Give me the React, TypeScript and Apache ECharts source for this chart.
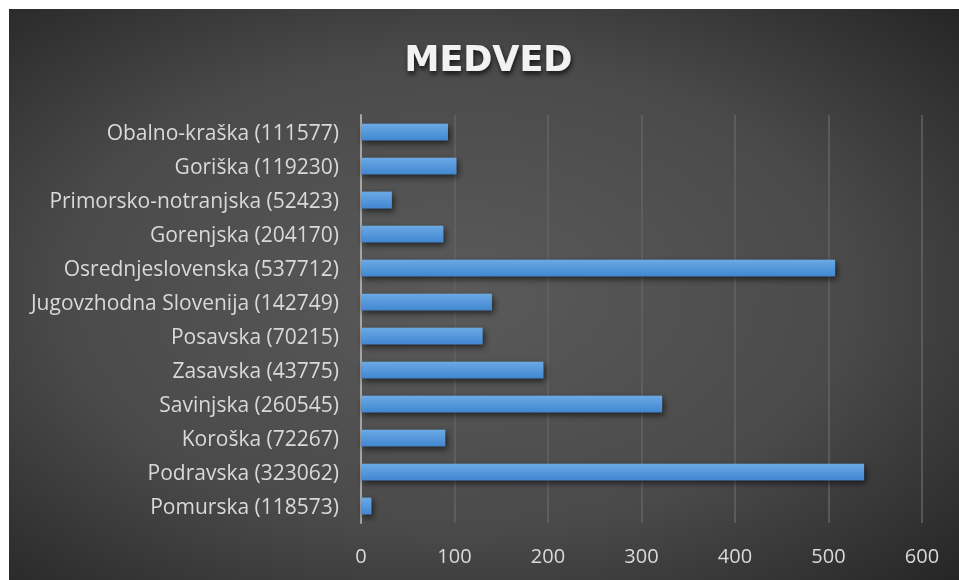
import React, { useEffect, useRef } from "react";
import * as echarts from "echarts";

const categories = [
  "Obalno-kraška (111577)",
  "Goriška (119230)",
  "Primorsko-notranjska (52423)",
  "Gorenjska (204170)",
  "Osrednjeslovenska (537712)",
  "Jugovzhodna Slovenija (142749)",
  "Posavska (70215)",
  "Zasavska (43775)",
  "Savinjska (260545)",
  "Koroška (72267)",
  "Podravska (323062)",
  "Pomurska (118573)",
];
const values = [93, 102, 33, 88, 507, 140, 130, 195, 322, 90, 538, 11];
const titleText = "MEDVED";
const xMin = 0;
const xMax = 600;
const xInterval = 100;

export default function App() {
  const ref = useRef<HTMLDivElement>(null);
  useEffect(() => {
    if (!ref.current) return;
    document.documentElement.style.overflow = "hidden";
    document.body.style.overflow = "hidden";
    const chart = echarts.init(ref.current, null, { renderer: "svg" });
    chart.setOption({
      animation: false,
      backgroundColor: {
        type: "radial",
        x: 0.47,
        y: 0.5,
        r: 0.75,
        colorStops: [
          { offset: 0, color: "#5a5a5a" },
          { offset: 0.55, color: "#4a4a4a" },
          { offset: 1, color: "#232323" },
        ],
      },
      title: {
        text: titleText,
        left: 474.5,
        textAlign: "center",
        top: 27,
        textStyle: {
          color: "#f2f2f2",
          fontFamily: "DejaVu Sans",
          fontWeight: "bold",
          fontSize: 35,
          textShadowColor: "rgba(0,0,0,0.75)",
          textShadowBlur: 5,
          textShadowOffsetX: 1,
          textShadowOffsetY: 3,
        },
      },
      grid: { left: 352, right: 37, top: 106, bottom: 57, containLabel: false },
      xAxis: {
        type: "value",
        min: xMin,
        max: xMax,
        interval: xInterval,
        axisLine: { show: false },
        axisTick: { show: false },
        splitLine: { show: true, lineStyle: { color: "#636363", width: 1.5 } },
        axisLabel: {
          color: "#d9d9d9",
          fontFamily: "Open Sans",
          fontSize: 20,
          margin: 22,
        },
      },
      yAxis: {
        type: "category",
        data: categories,
        inverse: true,
        axisLine: { show: true, lineStyle: { color: "#a6a6a6", width: 2 } },
        axisTick: { show: false },
        axisLabel: {
          color: "#d9d9d9",
          fontFamily: "Open Sans",
          fontSize: 21,
          margin: 22,
        },
      },
      series: [
        {
          type: "bar",
          data: values,
          barWidth: "49%",
          itemStyle: {
            color: {
              type: "linear",
              x: 0,
              y: 0,
              x2: 0,
              y2: 1,
              colorStops: [
                { offset: 0, color: "#6ca9e5" },
                { offset: 1, color: "#4187d1" },
              ],
            },
            shadowColor: "rgba(0,0,0,0.6)",
            shadowBlur: 6,
            shadowOffsetX: 2,
            shadowOffsetY: 3,
          },
        },
      ],
    });
    return () => chart.dispose();
  }, []);
  return (
    <div
      ref={ref}
      style={{ position: "fixed", left: 9, top: 9, width: 950, height: 571 }}
    />
  );
}
